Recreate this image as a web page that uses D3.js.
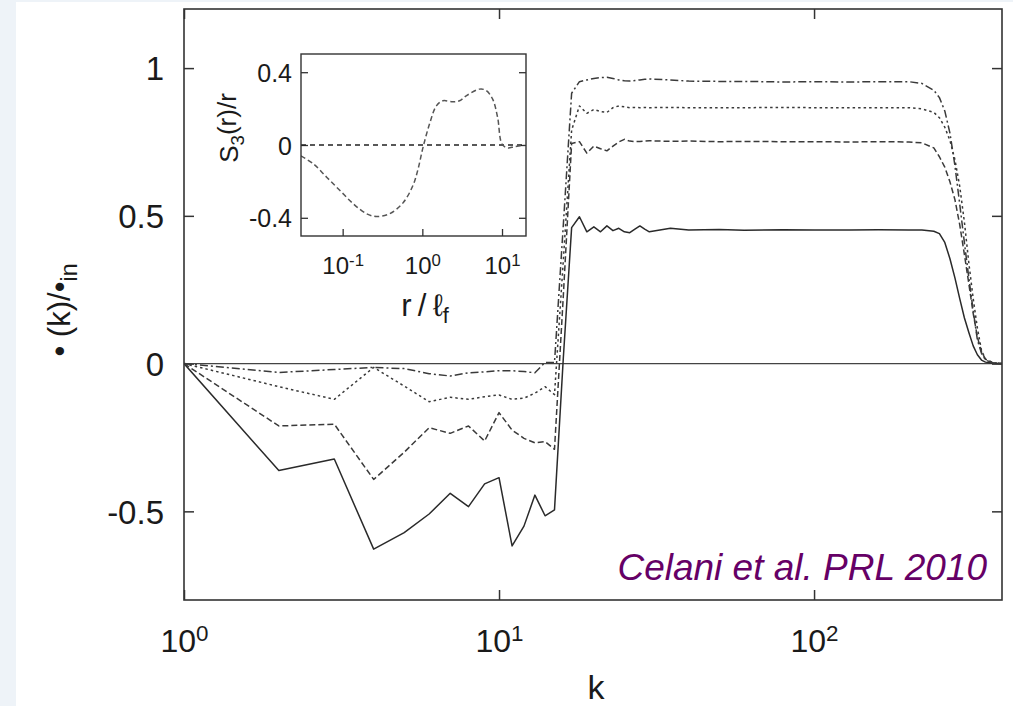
<!DOCTYPE html>
<html><head><meta charset="utf-8">
<script src="https://cdn.jsdelivr.net/npm/d3@7"></script>
<style>
html,body{margin:0;padding:0;background:#eef3f8;}
svg{display:block;}
text{font-family:"Liberation Sans",Arial,Helvetica,sans-serif;fill:#1a1a1a;}
</style></head><body>
<svg id="c" width="1013" height="706"></svg>
<script>
// ---------------- data ----------------
const kVals = [1,2,3,4,5,6,7,8,9,10,11,12,13,14,15,16,17,18,19,20,21,22,23,24,25,26,27,28,29,30,
  35,40,50,60,80,100,130,160,200,220,240,250,260,270,280,290,300,310,320,330,340,350,370,395];
const solidVals = [0,-0.362,-0.323,-0.628,-0.572,-0.509,-0.439,-0.484,-0.407,-0.386,-0.617,-0.550,-0.445,-0.515,-0.495,0.02,
  0.46,0.497,0.446,0.463,0.446,0.466,0.450,0.458,0.446,0.443,0.455,0.466,0.455,0.446,
  0.458,0.452,0.454,0.451,0.453,0.452,0.452,0.453,0.452,0.452,0.448,0.440,0.410,0.355,0.29,0.22,0.155,0.105,0.06,0.03,0.012,0.005,0.001,0];
const dashedVals = [0,-0.211,-0.205,-0.392,-0.300,-0.217,-0.236,-0.211,-0.262,-0.166,-0.225,-0.253,-0.268,-0.264,-0.290,0.23,
  0.745,0.751,0.712,0.736,0.727,0.720,0.736,0.750,0.759,0.753,0.751,0.752,0.753,0.754,
  0.752,0.753,0.751,0.752,0.751,0.751,0.750,0.751,0.750,0.747,0.730,0.700,0.665,0.615,0.555,0.47,0.37,0.27,0.17,0.09,0.04,0.015,0.002,0];
const dottedVals = [0,-0.078,-0.121,-0.013,-0.076,-0.129,-0.114,-0.121,-0.112,-0.106,-0.121,-0.117,-0.10,-0.078,-0.105,0.35,
  0.79,0.872,0.847,0.860,0.853,0.850,0.866,0.872,0.869,0.866,0.867,0.866,0.867,0.866,
  0.867,0.866,0.866,0.866,0.867,0.866,0.866,0.866,0.866,0.862,0.850,0.832,0.80,0.755,0.69,0.60,0.48,0.34,0.22,0.12,0.045,0.015,0.003,0];
const dashDotVals = [0,-0.030,-0.020,-0.013,-0.017,-0.034,-0.042,-0.031,-0.028,-0.024,-0.024,-0.027,-0.031,0.004,0.004,0.47,
  0.915,0.954,0.960,0.965,0.968,0.969,0.965,0.960,0.957,0.956,0.958,0.960,0.962,0.963,
  0.960,0.956,0.955,0.955,0.953,0.954,0.953,0.954,0.954,0.948,0.925,0.900,0.855,0.78,0.67,0.54,0.41,0.29,0.18,0.08,0.035,0.012,0.002,0];

const xTicks = [1,10,100];
const yTicks = [-0.5,0,0.5,1];
const yTickLabels = ["-0.5","0","0.5","1"];

// inset
const rVals = [0.03,0.043,0.063,0.0925,0.136,0.2,0.266,0.39,0.572,0.763,0.88,1.02,1.23,1.5,1.81,2.41,2.93,3.55,5.2,6.3,7.63,8.81,10,11.75,14.3,19];
const s3Vals = [-0.06,-0.104,-0.177,-0.25,-0.323,-0.378,-0.393,-0.377,-0.318,-0.222,-0.135,-0.013,0.115,0.215,0.243,0.237,0.243,0.27,0.307,0.30,0.252,0.151,0.005,-0.016,-0.009,0];
const insetXTicks = [0.1,1,10];
const insetYTicks = [-0.4,0,0.4];
const insetYTickLabels = ["-0.4","0","0.4"];

// ---------------- drawing ----------------
const W=1013,H=706;
const svg=d3.select('#c');
svg.append('rect').attr('x',16).attr('y',2).attr('width',W-16).attr('height',H-2).attr('fill','#fff');

const M={l:184,r:1002,t:9,b:600};
const x=d3.scaleLog().domain([1,395]).range([M.l,M.r]);
const y=d3.scaleLinear().domain([-0.8,1.2]).range([M.b,M.t]);

svg.append('clipPath').attr('id','mclip').append('rect')
  .attr('x',M.l).attr('y',M.t).attr('width',M.r-M.l).attr('height',M.b-M.t);

const axColor='#333';
function styleAxis(g){
  g.select('.domain').remove();
  g.selectAll('.tick line').attr('stroke',axColor).attr('stroke-width',1.5);
}
// bottom axis
const gx=svg.append('g').attr('transform',`translate(0,${M.b})`)
  .call(d3.axisBottom(x).tickValues(xTicks).tickSize(-10).tickFormat(''));
styleAxis(gx);
gx.selectAll('.tick text').each(function(d){
  const t=d3.select(this);
  t.attr('y',52).attr('dy',null).attr('font-size',32).attr('text-anchor','middle').attr('fill','#1a1a1a');
  t.append('tspan').text('10');
  t.append('tspan').attr('dy','-0.47em').attr('font-size','0.7em').text(String(Math.round(Math.log10(d))));
});
// top mirror
const gxt=svg.append('g').attr('transform',`translate(0,${M.t})`)
  .call(d3.axisTop(x).tickValues(xTicks).tickSize(-10).tickFormat(''));
styleAxis(gxt);
// left axis
const gy=svg.append('g').attr('transform',`translate(${M.l},0)`)
  .call(d3.axisLeft(y).tickValues(yTicks).tickSize(-10).tickFormat((d,i)=>yTickLabels[i]));
styleAxis(gy);
gy.selectAll('.tick text').attr('x',-20).attr('dy','0.36em').attr('font-size',33).attr('fill','#1a1a1a');
// right mirror
const gyr=svg.append('g').attr('transform',`translate(${M.r},0)`)
  .call(d3.axisRight(y).tickValues(yTicks).tickSize(-10).tickFormat(''));
styleAxis(gyr);

// zero line
svg.append('line').attr('x1',M.l).attr('x2',M.r).attr('y1',y(0)).attr('y2',y(0))
  .attr('stroke','#444').attr('stroke-width',1.4);

const line=d3.line().x(d=>x(d[0])).y(d=>y(d[1]));
const series=[
  {vals:solidVals, dash:null, color:'#2a2a2a'},
  {vals:dashedVals, dash:'6,3', color:'#3a3a3a'},
  {vals:dottedVals, dash:'2.5,3', color:'#3a3a3a'},
  {vals:dashDotVals, dash:'8,3,2,3', color:'#3a3a3a'}
];
const gl=svg.append('g').attr('clip-path','url(#mclip)');
series.forEach(s=>{
  gl.append('path').datum(kVals.map((k,i)=>[k,s.vals[i]]))
    .attr('d',line).attr('fill','none').attr('stroke',s.color).attr('stroke-width',1.5)
    .attr('stroke-dasharray',s.dash).attr('stroke-linejoin','round');
});

// frame
svg.append('rect').attr('x',M.l).attr('y',M.t).attr('width',M.r-M.l).attr('height',M.b-M.t)
  .attr('fill','none').attr('stroke',axColor).attr('stroke-width',1.6);

// labels
svg.append('text').attr('x',596).attr('y',699).attr('text-anchor','middle').attr('font-size',34).text('k');
const yl=svg.append('text').attr('transform','translate(70,310) rotate(-90)').attr('text-anchor','middle').attr('font-size',31);
yl.append('tspan').text('\u2022 (k)/\u2022');
yl.append('tspan').attr('dy','0.3em').attr('font-size','0.75em').text('in');

svg.append('text').attr('x',987).attr('y',580).attr('text-anchor','end').attr('font-size',37)
  .attr('font-style','italic').style('fill','#660066').text('Celani et al. PRL 2010');

// ---------------- inset ----------------
const I={l:301,r:526,t:54,b:236};
const ix=d3.scaleLog().domain([0.03,20]).range([I.l,I.r]);
const iy=d3.scaleLinear().domain([-0.5,0.5]).range([I.b,I.t]);
svg.append('rect').attr('x',I.l).attr('y',I.t).attr('width',I.r-I.l).attr('height',I.b-I.t).attr('fill','#fff');
svg.append('clipPath').attr('id','iclip').append('rect')
  .attr('x',I.l).attr('y',I.t).attr('width',I.r-I.l).attr('height',I.b-I.t);

const igx=svg.append('g').attr('transform',`translate(0,${I.b})`)
  .call(d3.axisBottom(ix).tickValues(insetXTicks).tickSize(-7).tickFormat(''));
styleAxis(igx);
igx.selectAll('.tick line').attr('stroke-width',1.3);
igx.selectAll('.tick text').each(function(d){
  const t=d3.select(this);
  t.attr('y',38).attr('dy',null).attr('font-size',24).attr('text-anchor','middle').attr('fill','#1a1a1a');
  t.append('tspan').text('10');
  t.append('tspan').attr('dy','-0.45em').attr('font-size','0.7em').text(String(Math.round(Math.log10(d))));
});
const igy=svg.append('g').attr('transform',`translate(${I.l},0)`)
  .call(d3.axisLeft(iy).tickValues(insetYTicks).tickSize(-7).tickFormat((d,i)=>insetYTickLabels[i]));
styleAxis(igy);
igy.selectAll('.tick line').attr('stroke-width',1.3);
igy.selectAll('.tick text').attr('x',-9).attr('dy','0.36em').attr('font-size',25).attr('fill','#1a1a1a');
const igyr=svg.append('g').attr('transform',`translate(${I.r},0)`)
  .call(d3.axisRight(iy).tickValues(insetYTicks).tickSize(-7).tickFormat(''));
styleAxis(igyr);
igyr.selectAll('.tick line').attr('stroke-width',1.3);

svg.append('line').attr('x1',I.l).attr('x2',I.r).attr('y1',iy(0)).attr('y2',iy(0))
  .attr('stroke','#222').attr('stroke-width',1.3).attr('stroke-dasharray','5,4');

const iline=d3.line().x(d=>ix(d[0])).y(d=>iy(d[1])).curve(d3.curveCatmullRom.alpha(0.5));
svg.append('g').attr('clip-path','url(#iclip)').append('path')
  .datum(rVals.map((r,i)=>[r,s3Vals[i]]))
  .attr('d',iline).attr('fill','none').attr('stroke','#555').attr('stroke-width',1.5).attr('stroke-dasharray','5,3');

svg.append('rect').attr('x',I.l).attr('y',I.t).attr('width',I.r-I.l).attr('height',I.b-I.t)
  .attr('fill','none').attr('stroke',axColor).attr('stroke-width',1.4);

const il=svg.append('text').attr('transform','translate(238,128) rotate(-90)').attr('text-anchor','middle').attr('font-size',26);
il.append('tspan').text('S');
il.append('tspan').attr('dy','0.3em').attr('font-size','0.72em').text('3');
il.append('tspan').attr('dy','-0.3em').text('(r)/r');

const xl=svg.append('text').attr('x',425).attr('y',316).attr('text-anchor','middle').attr('font-size',31);
xl.append('tspan').text('r\u2009/\u2009\u2113');
xl.append('tspan').attr('dy','0.3em').attr('font-size','0.7em').text('f');
</script>
</body></html>
